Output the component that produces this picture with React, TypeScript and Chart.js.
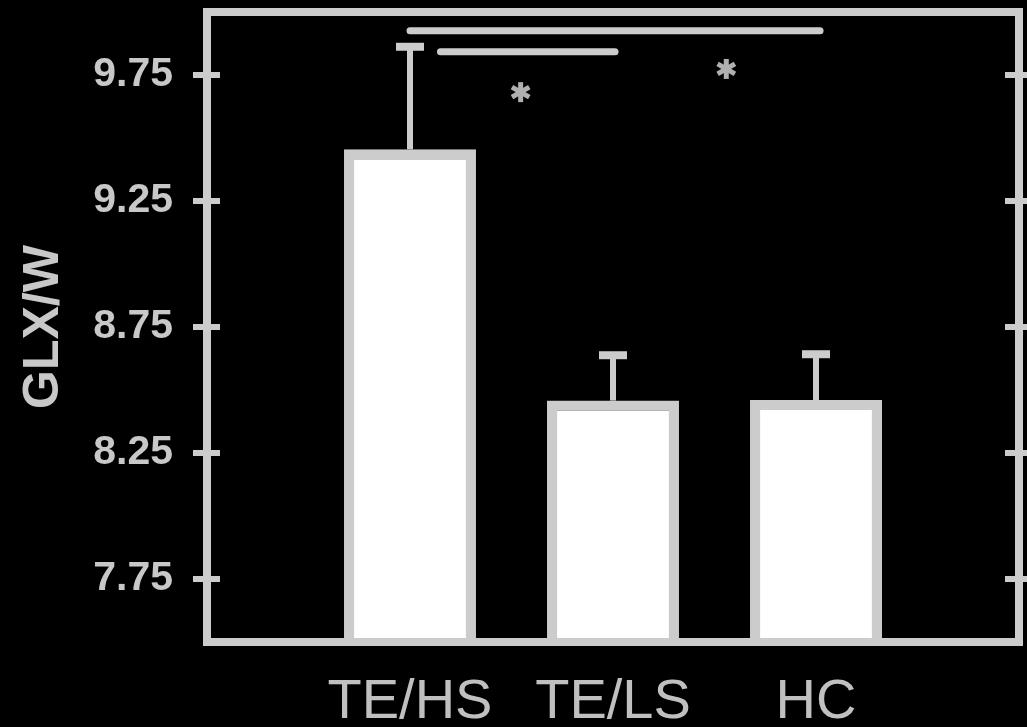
import { useEffect, useRef } from 'react';
import { Chart, registerables } from 'chart.js';

Chart.register(...registerables);

const categories = ['', 'TE/HS', 'TE/LS', 'HC', ''];
const means: (number | null)[] = [null, 9.455, 8.458, 8.46, null];
const errors: (number | null)[] = [null, 0.407, 0.18, 0.182, null];
const yTicks = [7.75, 8.25, 8.75, 9.25, 9.75];
const bracketFrom = [1.0, 1.15];
const bracketTo = [3.02, 2.01];
const bracketY = [9.926, 9.842];
const starX = [1.545, 2.558];
const starY = [9.682, 9.774];

const FONT = "'Liberation Sans', Arial, sans-serif";
const GRAY = '#cccccc';

const overlay = {
  id: 'overlay',
  afterDatasetsDraw(chart: any) {
    const { ctx, chartArea: a, scales } = chart;
    const x = scales.x;
    const y = scales.y;
    ctx.save();
    ctx.strokeStyle = GRAY;
    ctx.lineCap = 'butt';
    // error bars
    means.forEach((m, i) => {
      const e = errors[i];
      if (m == null || e == null) return;
      const px = x.getPixelForValue(i);
      const top = y.getPixelForValue(m);
      const ep = y.getPixelForValue(m + e);
      ctx.lineWidth = 6;
      ctx.beginPath();
      ctx.moveTo(px, top);
      ctx.lineTo(px, ep);
      ctx.stroke();
      ctx.lineWidth = 8;
      ctx.beginPath();
      ctx.moveTo(px - 14, ep);
      ctx.lineTo(px + 14, ep);
      ctx.stroke();
    });
    // frame
    ctx.lineWidth = 8;
    ctx.strokeRect(a.left, a.top, a.right - a.left, a.bottom - a.top);
    // tick marks on both vertical sides
    ctx.lineWidth = 6;
    yTicks.forEach((v) => {
      const py = y.getPixelForValue(v);
      ctx.beginPath();
      ctx.moveTo(a.left - 14, py);
      ctx.lineTo(a.left + 13, py);
      ctx.moveTo(a.right - 14, py);
      ctx.lineTo(a.right + 14, py);
      ctx.stroke();
    });
    // significance brackets
    ctx.lineWidth = 7;
    ctx.lineCap = 'round';
    bracketFrom.forEach((f, i) => {
      const py = y.getPixelForValue(bracketY[i]);
      ctx.beginPath();
      ctx.moveTo(x.getPixelForValue(f), py);
      ctx.lineTo(x.getPixelForValue(bracketTo[i]), py);
      ctx.stroke();
    });
    // asterisks
    ctx.strokeStyle = '#b0b0b0';
    ctx.lineWidth = 5;
    ctx.lineCap = 'butt';
    starX.forEach((sx, i) => {
      const cx = x.getPixelForValue(sx);
      const cy = y.getPixelForValue(starY[i]);
      [90, 30, 150].forEach((deg) => {
        const r = (deg * Math.PI) / 180;
        const dx = Math.cos(r) * 10;
        const dy = Math.sin(r) * 10;
        ctx.beginPath();
        ctx.moveTo(cx - dx, cy - dy);
        ctx.lineTo(cx + dx, cy + dy);
        ctx.stroke();
      });
    });
    ctx.restore();
  },
};

export default function App() {
  const ref = useRef<HTMLCanvasElement | null>(null);
  useEffect(() => {
    if (!ref.current) return;
    const chart = new Chart(ref.current, {
      type: 'bar',
      data: {
        labels: categories,
        datasets: [
          {
            data: means,
            backgroundColor: '#ffffff',
            borderColor: GRAY,
            borderWidth: 10,
            borderSkipped: 'start',
            categoryPercentage: 1,
            barPercentage: 0.65,
          },
        ],
      },
      options: {
        responsive: false,
        animation: false,
        devicePixelRatio: 1,
        layout: { padding: { top: 12, right: 8, left: 0, bottom: 0 } },
        plugins: { legend: { display: false }, tooltip: { enabled: false } },
        scales: {
          x: {
            type: 'category',
            offset: false,
            grid: { display: false, drawTicks: false },
            border: { display: false },
            ticks: {
              color: '#c0c0c0',
              font: { family: FONT, size: 56 },
              padding: 27,
              maxRotation: 0,
              autoSkip: false,
            },
            afterFit: (axis: any) => {
              axis.height = 85;
              axis.paddingLeft = 0;
              axis.paddingRight = 0;
              axis.paddingTop = 0;
              axis.paddingBottom = 0;
            },
          },
          y: {
            type: 'linear',
            min: 7.5,
            max: 10.0,
            grid: { display: false, drawTicks: false },
            border: { display: false },
            afterBuildTicks: (axis: any) => {
              axis.ticks = yTicks.map((v) => ({ value: v }));
            },
            ticks: {
              color: '#c8c8c8',
              font: { family: FONT, size: 41, weight: 'bold' },
              padding: 34,
              callback: (v: any) => Number(v).toFixed(2),
            },
            title: {
              display: true,
              text: 'GLX/W',
              color: '#c8c8c8',
              font: { family: FONT, size: 50, weight: 'bold' },
              padding: { top: 14, bottom: 0 },
            },
            afterFit: (axis: any) => {
              axis.width = 207;
              axis.paddingLeft = 0;
              axis.paddingRight = 0;
              axis.paddingTop = 0;
              axis.paddingBottom = 0;
            },
          },
        },
      },
      plugins: [overlay],
    });
    return () => chart.destroy();
  }, []);
  return (
    <div style={{ position: 'absolute', left: 0, top: 0, width: 1027, height: 727, background: '#000' }}>
      <canvas ref={ref} width={1027} height={727} style={{ display: 'block' }} />
    </div>
  );
}
